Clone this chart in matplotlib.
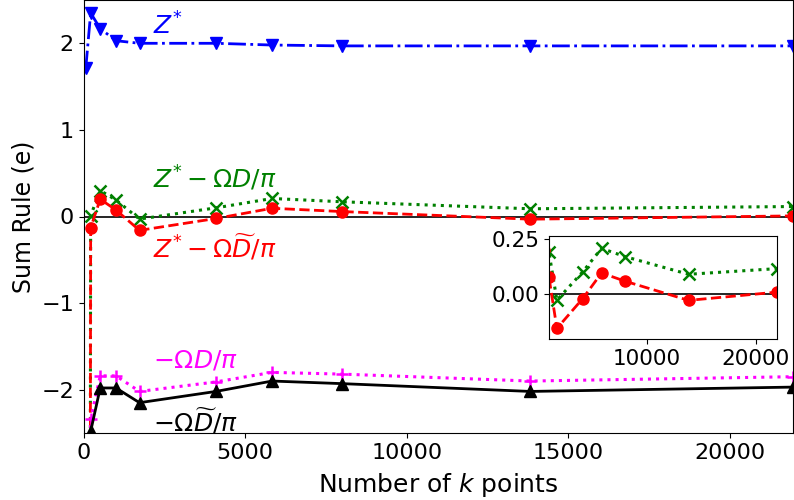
import matplotlib
matplotlib.use("Agg")
import matplotlib.pyplot as plt

plt.rcParams['font.family'] = ['DejaVu Sans']
plt.rcParams['mathtext.fontset'] = 'dejavusans'

# Number of k points (n^3 grids)
kpoints = [64, 216, 512, 1000, 1728, 4096, 5832, 8000, 13824, 21952]

z_star = [1.71, 2.35, 2.17, 2.03, 2.00, 2.00, 1.98, 1.97, 1.97, 1.97]
z_minus_omega_d = [-38.3, 0.01, 0.30, 0.19, -0.03, 0.10, 0.208, 0.17, 0.089, 0.115]
z_minus_omega_dt = [-39.3, -0.13, 0.20, 0.075, -0.16, -0.023, 0.095, 0.057, -0.031, 0.007]
minus_omega_d = [-40.0, -2.34, -1.84, -1.84, -2.02, -1.91, -1.80, -1.82, -1.90, -1.85]
minus_omega_dt = [-41.0, -2.48, -1.98, -1.98, -2.15, -2.02, -1.90, -1.93, -2.02, -1.97]

FS = 16

fig = plt.figure(figsize=(7.94, 5.00), dpi=100)
ax = fig.add_axes([0.1054, 0.134, 0.8930, 0.866])

ax.axhline(0, color='black', lw=1.2, zorder=1)
ax.plot(kpoints, z_star, color='blue', ls='-.', marker='v', ms=8, lw=2)
ax.plot(kpoints, z_minus_omega_d, color='green', ls=':', marker='x', ms=8, lw=2.2, mew=1.8)
ax.plot(kpoints, z_minus_omega_dt, color='red', ls='--', marker='o', ms=8, lw=2)
ax.plot(kpoints, minus_omega_d, color='magenta', ls=':', marker='+', ms=9, lw=2.2, mew=1.8)
ax.plot(kpoints, minus_omega_dt, color='black', ls='-', marker='^', ms=8, lw=2)

ax.set_xlim(0, 21952)
ax.set_ylim(-2.5, 2.5)
ax.set_xticks([0, 5000, 10000, 15000, 20000])
ax.set_yticks([-2, -1, 0, 1, 2])
ax.tick_params(labelsize=FS)
ax.set_xlabel(r'Number of $k$ points', fontsize=18, labelpad=6)
ax.set_ylabel('Sum Rule (e)', fontsize=17, labelpad=4)

TS = 18
ax.text(2150, 2.2, r'$Z^{*}$', color='blue', fontsize=TS, ha='left', va='center')
ax.text(2150, 0.44, r'$Z^{*}-\Omega D/\pi$', color='green', fontsize=TS, ha='left', va='center')
ax.text(2150, -0.36, r'$Z^{*}-\Omega \widetilde{D}/\pi$', color='red', fontsize=TS, ha='left', va='center')
ax.text(2150, -1.66, r'$-\Omega D/\pi$', color='magenta', fontsize=TS, ha='left', va='center')
ax.text(2150, -2.36, r'$-\Omega \widetilde{D}/\pi$', color='black', fontsize=TS, ha='left', va='center')

# inset
axin = fig.add_axes([0.6914, 0.3214, 0.2872, 0.2066])
axin.axhline(0, color='black', lw=1.2, zorder=1)
axin.plot(kpoints, z_minus_omega_d, color='green', ls=':', marker='x', ms=8, lw=2.2, mew=1.8)
axin.plot(kpoints, z_minus_omega_dt, color='red', ls='--', marker='o', ms=8, lw=2)
axin.set_xlim(1000, 21952)
axin.set_ylim(-0.21, 0.265)
axin.set_xticks([10000, 20000])
axin.set_yticks([0.0, 0.25])
axin.set_yticklabels(['0.00', '0.25'])
axin.tick_params(labelsize=15.5)

fig.savefig('out.png', dpi=100)
